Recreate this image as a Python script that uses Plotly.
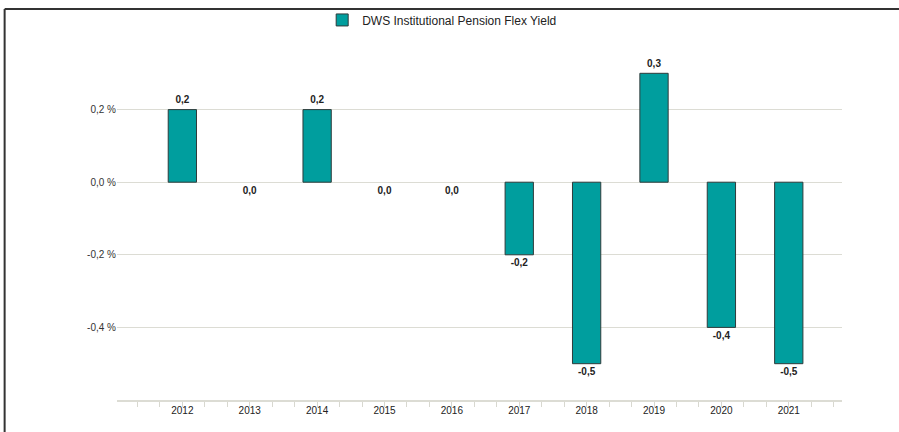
import plotly.graph_objects as go

years = [2012, 2013, 2014, 2015, 2016, 2017, 2018, 2019, 2020, 2021]
values = [0.2, 0.0, 0.2, 0.0, 0.0, -0.2, -0.5, 0.3, -0.4, -0.5]
series_name = "DWS Institutional Pension Flex Yield"
y_tickvals = [0.4, 0.2, 0.0, -0.2, -0.4, -0.6]
y_ticktext = ["", "0,2 %", "0,0 %", "-0,2 %", "-0,4 %", ""]

labels = [f"{v:.1f}".replace(".", ",") for v in values]
positions = ["top center" if v > 0 else "bottom center" for v in values]
bar_line_widths = [1 if v != 0 else 0 for v in values]

fig = go.Figure()
fig.add_trace(go.Bar(
    x=years, y=values, name=series_name, width=0.42,
    marker=dict(color="#009e9e", line=dict(color="#2f3b3b", width=bar_line_widths)),
    hoverinfo="skip",
))
fig.add_trace(go.Scatter(
    x=years, y=values, mode="markers+text", text=labels, textposition=positions,
    marker=dict(size=5, opacity=0),
    textfont=dict(family="Liberation Sans, Arial", size=10, color="#222222", weight="bold"),
    showlegend=False, hoverinfo="skip", cliponaxis=False,
))

fig.update_layout(
    width=899, height=432,
    margin=dict(l=117, r=57, t=37, b=32, autoexpand=False),
    paper_bgcolor="white", plot_bgcolor="white",
    font=dict(family="Liberation Sans, Arial", size=10, color="#333333"),
    showlegend=True,
    legend=dict(orientation="h", x=0.283, y=1.047, xanchor="left", yanchor="middle",
                font=dict(size=12, color="#222222"), bgcolor="rgba(0,0,0,0)"),
)
fig.update_xaxes(
    range=[2011.03, 2021.79],
    tickvals=years, ticktext=[str(y) for y in years],
    ticks="", showgrid=False, zeroline=False,
    showline=True, linecolor="#dcdcd4", linewidth=2,
    minor=dict(dtick=1/3, tick0=2011.0, ticks="outside", ticklen=5, tickcolor="#d8d8d0", showgrid=False),
    tickfont=dict(size=10, color="#222222"),
    fixedrange=True,
)
fig.update_yaxes(
    range=[-0.6, 0.4],
    tickvals=y_tickvals, ticktext=y_ticktext,
    showgrid=True, gridcolor="#dcdcd4", gridwidth=1,
    zeroline=False, showline=False, ticks="",
    tickfont=dict(size=10, color="#333333"),
    fixedrange=True,
)
# outer frame (top and left edges)
fig.add_shape(type="line", xref="paper", yref="paper", x0=-0.155, x1=1.08, y0=1.077, y1=1.077,
              line=dict(color="#333333", width=2))
fig.add_shape(type="line", xref="paper", yref="paper", x0=-0.155, x1=-0.155, y0=1.077, y1=-0.1,
              line=dict(color="#333333", width=2))

fig.write_html("out.html", config={"displayModeBar": False},
               post_script="document.body.style.margin='0px';")
